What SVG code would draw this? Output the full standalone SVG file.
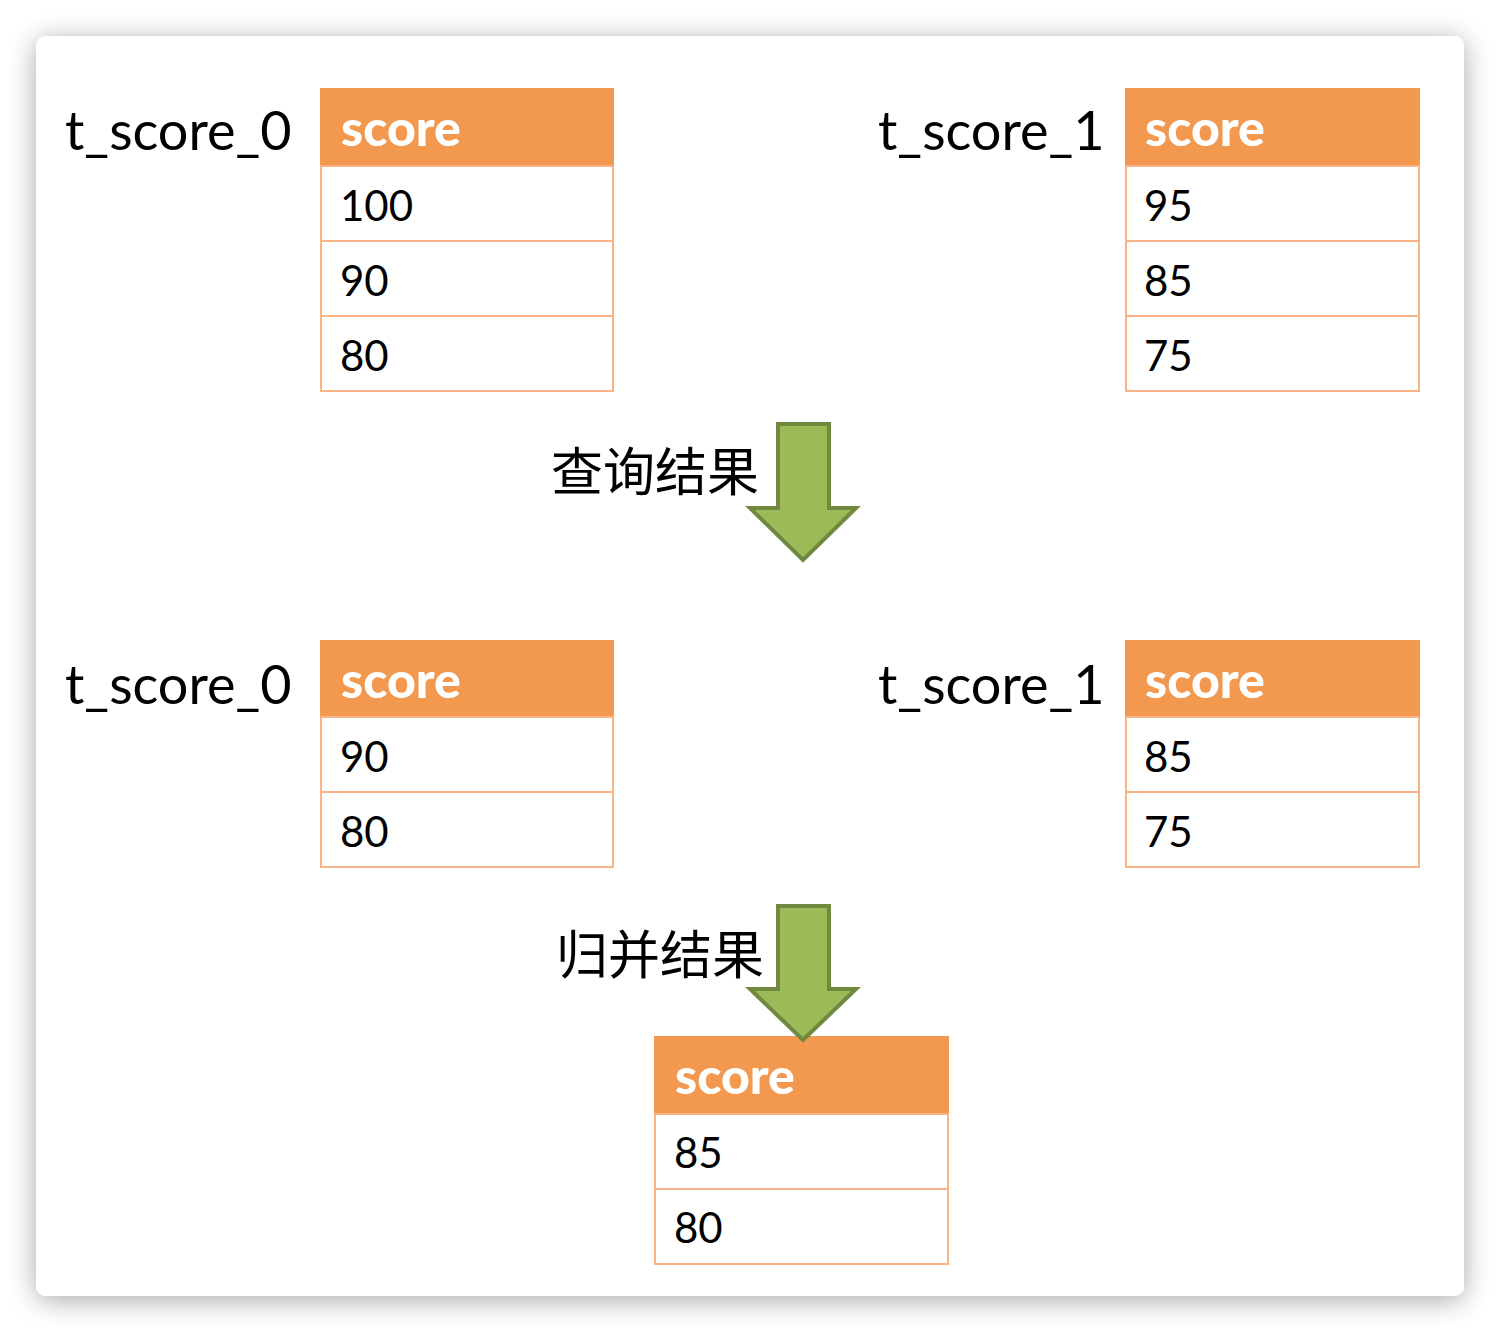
<svg xmlns="http://www.w3.org/2000/svg" width="1500" height="1332" viewBox="0 0 1500 1332">
<defs>
<filter id="sh" x="-10%" y="-10%" width="120%" height="120%">
<feGaussianBlur in="SourceAlpha" stdDeviation="14"/>
<feOffset dx="0" dy="4"/>
<feComponentTransfer><feFuncA type="linear" slope="0.35"/></feComponentTransfer>
<feMerge><feMergeNode/><feMergeNode in="SourceGraphic"/></feMerge>
</filter>
</defs>
<style>
.lbl{font-family:Lato,"Liberation Sans",sans-serif;font-size:54px;fill:#000}
.cn{font-family:"Noto Sans CJK SC",sans-serif;font-size:52px;fill:#000}
.hd{fill:#F2984F}
.hdt{font-family:Lato,"Liberation Sans",sans-serif;font-size:50px;font-weight:900;fill:#fff}
.cell{fill:#fff;stroke:#F8B486;stroke-width:2}
.num{font-family:Lato,"Liberation Sans",sans-serif;font-size:42px;fill:#000}
.arr{fill:#9BBB59;stroke:#71893F;stroke-width:4}
</style>
<rect width="1500" height="1332" fill="#fff"/>
<rect x="36" y="36" width="1428" height="1260" rx="10" fill="#fff" filter="url(#sh)"/>

<g id="t0a">
<text class="lbl" x="65" y="150">t_score_0</text>
<rect class="hd" x="320" y="88" width="294" height="78"/>
<text class="hdt" x="341" y="146">score</text>
<rect class="cell" x="321" y="166" width="292" height="75"/>
<rect class="cell" x="321" y="241" width="292" height="75"/>
<rect class="cell" x="321" y="316" width="292" height="75"/>
<text class="num" x="340" y="221">100</text>
<text class="num" x="340" y="296">90</text>
<text class="num" x="340" y="371">80</text>
</g>

<g id="t1a">
<text class="lbl" x="878" y="150">t_score_1</text>
<rect class="hd" x="1125" y="88" width="295" height="78"/>
<text class="hdt" x="1145" y="146">score</text>
<rect class="cell" x="1126" y="166" width="293" height="75"/>
<rect class="cell" x="1126" y="241" width="293" height="75"/>
<rect class="cell" x="1126" y="316" width="293" height="75"/>
<text class="num" x="1144" y="221">95</text>
<text class="num" x="1144" y="296">85</text>
<text class="num" x="1144" y="371">75</text>
</g>

<g id="t0b">
<text class="lbl" x="65" y="704">t_score_0</text>
<rect class="hd" x="320" y="640" width="294" height="77"/>
<text class="hdt" x="341" y="698">score</text>
<rect class="cell" x="321" y="717" width="292" height="75"/>
<rect class="cell" x="321" y="792" width="292" height="75"/>
<text class="num" x="340" y="772">90</text>
<text class="num" x="340" y="847">80</text>
</g>

<g id="t1b">
<text class="lbl" x="878" y="704">t_score_1</text>
<rect class="hd" x="1125" y="640" width="295" height="77"/>
<text class="hdt" x="1145" y="698">score</text>
<rect class="cell" x="1126" y="717" width="293" height="75"/>
<rect class="cell" x="1126" y="792" width="293" height="75"/>
<text class="num" x="1144" y="772">85</text>
<text class="num" x="1144" y="847">75</text>
</g>

<g id="merged">
<rect class="hd" x="654" y="1036" width="295" height="78"/>
<text class="hdt" x="675" y="1094">score</text>
<rect class="cell" x="655" y="1114" width="293" height="75"/>
<rect class="cell" x="655" y="1189" width="293" height="75"/>
<text class="num" x="674" y="1168">85</text>
<text class="num" x="674" y="1243">80</text>
</g>

<g id="connectors">
<polygon class="arr" points="778,424 829,424 829,508 856,508 803,560 750,508 778,508"/>
<text class="cn" x="551" y="491">查询结果</text>
<polygon class="arr" points="778,906 829,906 829,989 856,989 803,1040 750,989 778,989"/>
<text class="cn" x="556" y="974">归并结果</text>
</g>
</svg>
